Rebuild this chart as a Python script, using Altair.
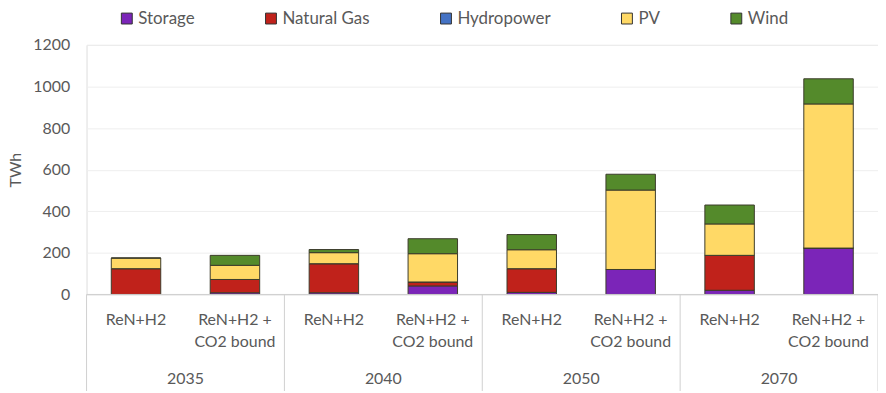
import altair as alt
import pandas as pd

years = ["2035", "2040", "2050", "2070"]
scen_line1 = ["ReN+H2", "ReN+H2 +"]
scen_line2 = ["", "CO2 bound"]
sources = ["Storage", "Natural Gas", "Hydropower", "PV", "Wind"]
colors = ["#7B25B8", "#C0221B", "#4472C4", "#FFD966", "#548A2B"]

# values per bar: 2035 A, 2035 B, 2040 A, 2040 B, 2050 A, 2050 B, 2070 A, 2070 B
storage = [0, 8, 8, 41, 10, 120, 20, 223]
natural_gas = [124, 64, 140, 19, 114, 0, 168, 0]
hydropower = [0, 0, 0, 0, 0, 0, 0, 0]
pv = [51, 68, 53, 136, 91, 382, 151, 693]
wind = [0, 48, 15, 72, 73, 76, 91, 121]

series = [storage, natural_gas, hydropower, pv, wind]

keys = []
lab_rows = []
for y in years:
    for i in range(2):
        k = f"{y}|{i}"
        keys.append(k)
        lab_rows.append({"key": k, "l1": scen_line1[i], "l2": scen_line2[i]})

rows = []
for si, (s, vals) in enumerate(zip(sources, series)):
    for k, v in zip(keys, vals):
        rows.append({"key": k, "source": s, "value": v, "ord": si})
df = pd.DataFrame(rows)
labels = pd.DataFrame(lab_rows)
year_df = pd.DataFrame({"key": [f"{y}|0" for y in years], "year": years})
sep_df = pd.DataFrame({"key": [f"{y}|0" for y in years]})
end_df = pd.DataFrame({"key": [keys[-1]]})

W, H = 796, 251
FONT = "Lato"
TXT = "#595959"

xscale = alt.Scale(domain=keys, paddingInner=0.5, paddingOuter=0.25)

bars = alt.Chart(df).mark_bar(stroke="#3b3b2b", strokeWidth=1).encode(
    x=alt.X("key:N", scale=xscale, axis=None, sort=keys),
    y=alt.Y("value:Q", stack="zero",
            scale=alt.Scale(domain=[0, 1200]),
            axis=alt.Axis(values=[0, 200, 400, 600, 800, 1000, 1200],
                          format="d",
                          title="TWh", domain=False, ticks=False,
                          labelPadding=17, titlePadding=9,
                          gridColor="#EEEEEE", labelFontSize=16,
                          titleFontSize=16, titleFontWeight="normal",
                          labelColor=TXT, titleColor=TXT,
                          labelFont=FONT, titleFont=FONT)),
    color=alt.Color("source:N",
                    scale=alt.Scale(domain=sources, range=colors),
                    legend=alt.Legend(orient="none", direction="horizontal",
                                      legendX=32, legendY=-35, title=None,
                                      gridAlign="none", columnPadding=68,
                                      symbolType="square", symbolSize=120,
                                      symbolStrokeColor="#333333",
                                      symbolStrokeWidth=1,
                                      labelFontSize=17, labelColor=TXT,
                                      labelFont=FONT, labelOffset=3)),
    order=alt.Order("ord:Q"),
)

baseline = alt.Chart(pd.DataFrame({"v": [0]})).mark_rule(
    color="#D0D0D0", strokeWidth=1).encode(
    y="v:Q", x=alt.value(0), x2=alt.value(W))

seps = alt.Chart(sep_df).mark_rule(color="#D0D0D0", strokeWidth=1,
                                    xOffset=-W / 32).encode(
    x=alt.X("key:N", scale=xscale, sort=keys, bandPosition=0),
    y=alt.value(H), y2=alt.value(H + 110))

ends = alt.Chart(end_df).mark_rule(color="#D0D0D0", strokeWidth=1,
                                   xOffset=W / 32).encode(
    x=alt.X("key:N", scale=xscale, sort=keys, bandPosition=1),
    y=alt.value(H), y2=alt.value(H + 110))

t1 = alt.Chart(labels).mark_text(font=FONT, fontSize=16, color=TXT,
                                 baseline="middle").encode(
    x=alt.X("key:N", scale=xscale, sort=keys), y=alt.value(H + 26),
    text="l1:N")
t2 = alt.Chart(labels).mark_text(font=FONT, fontSize=16, color=TXT,
                                 baseline="middle").encode(
    x=alt.X("key:N", scale=xscale, sort=keys), y=alt.value(H + 48),
    text="l2:N")
ty = alt.Chart(year_df).mark_text(font=FONT, fontSize=16, color=TXT,
                                  baseline="middle", dx=W / 16).encode(
    x=alt.X("key:N", scale=xscale, sort=keys), y=alt.value(H + 85),
    text="year:N")

chart = alt.layer(bars, baseline, seps, ends, t1, t2, ty).properties(
    width=W, height=H,
    autosize=alt.AutoSizeParams(type="none"),
    padding={"left": 79, "top": 36, "right": 0, "bottom": 96},
).configure_view(stroke=None).configure(background="white")

chart.save("out.html", embed_options={"renderer": "svg", "actions": False})
